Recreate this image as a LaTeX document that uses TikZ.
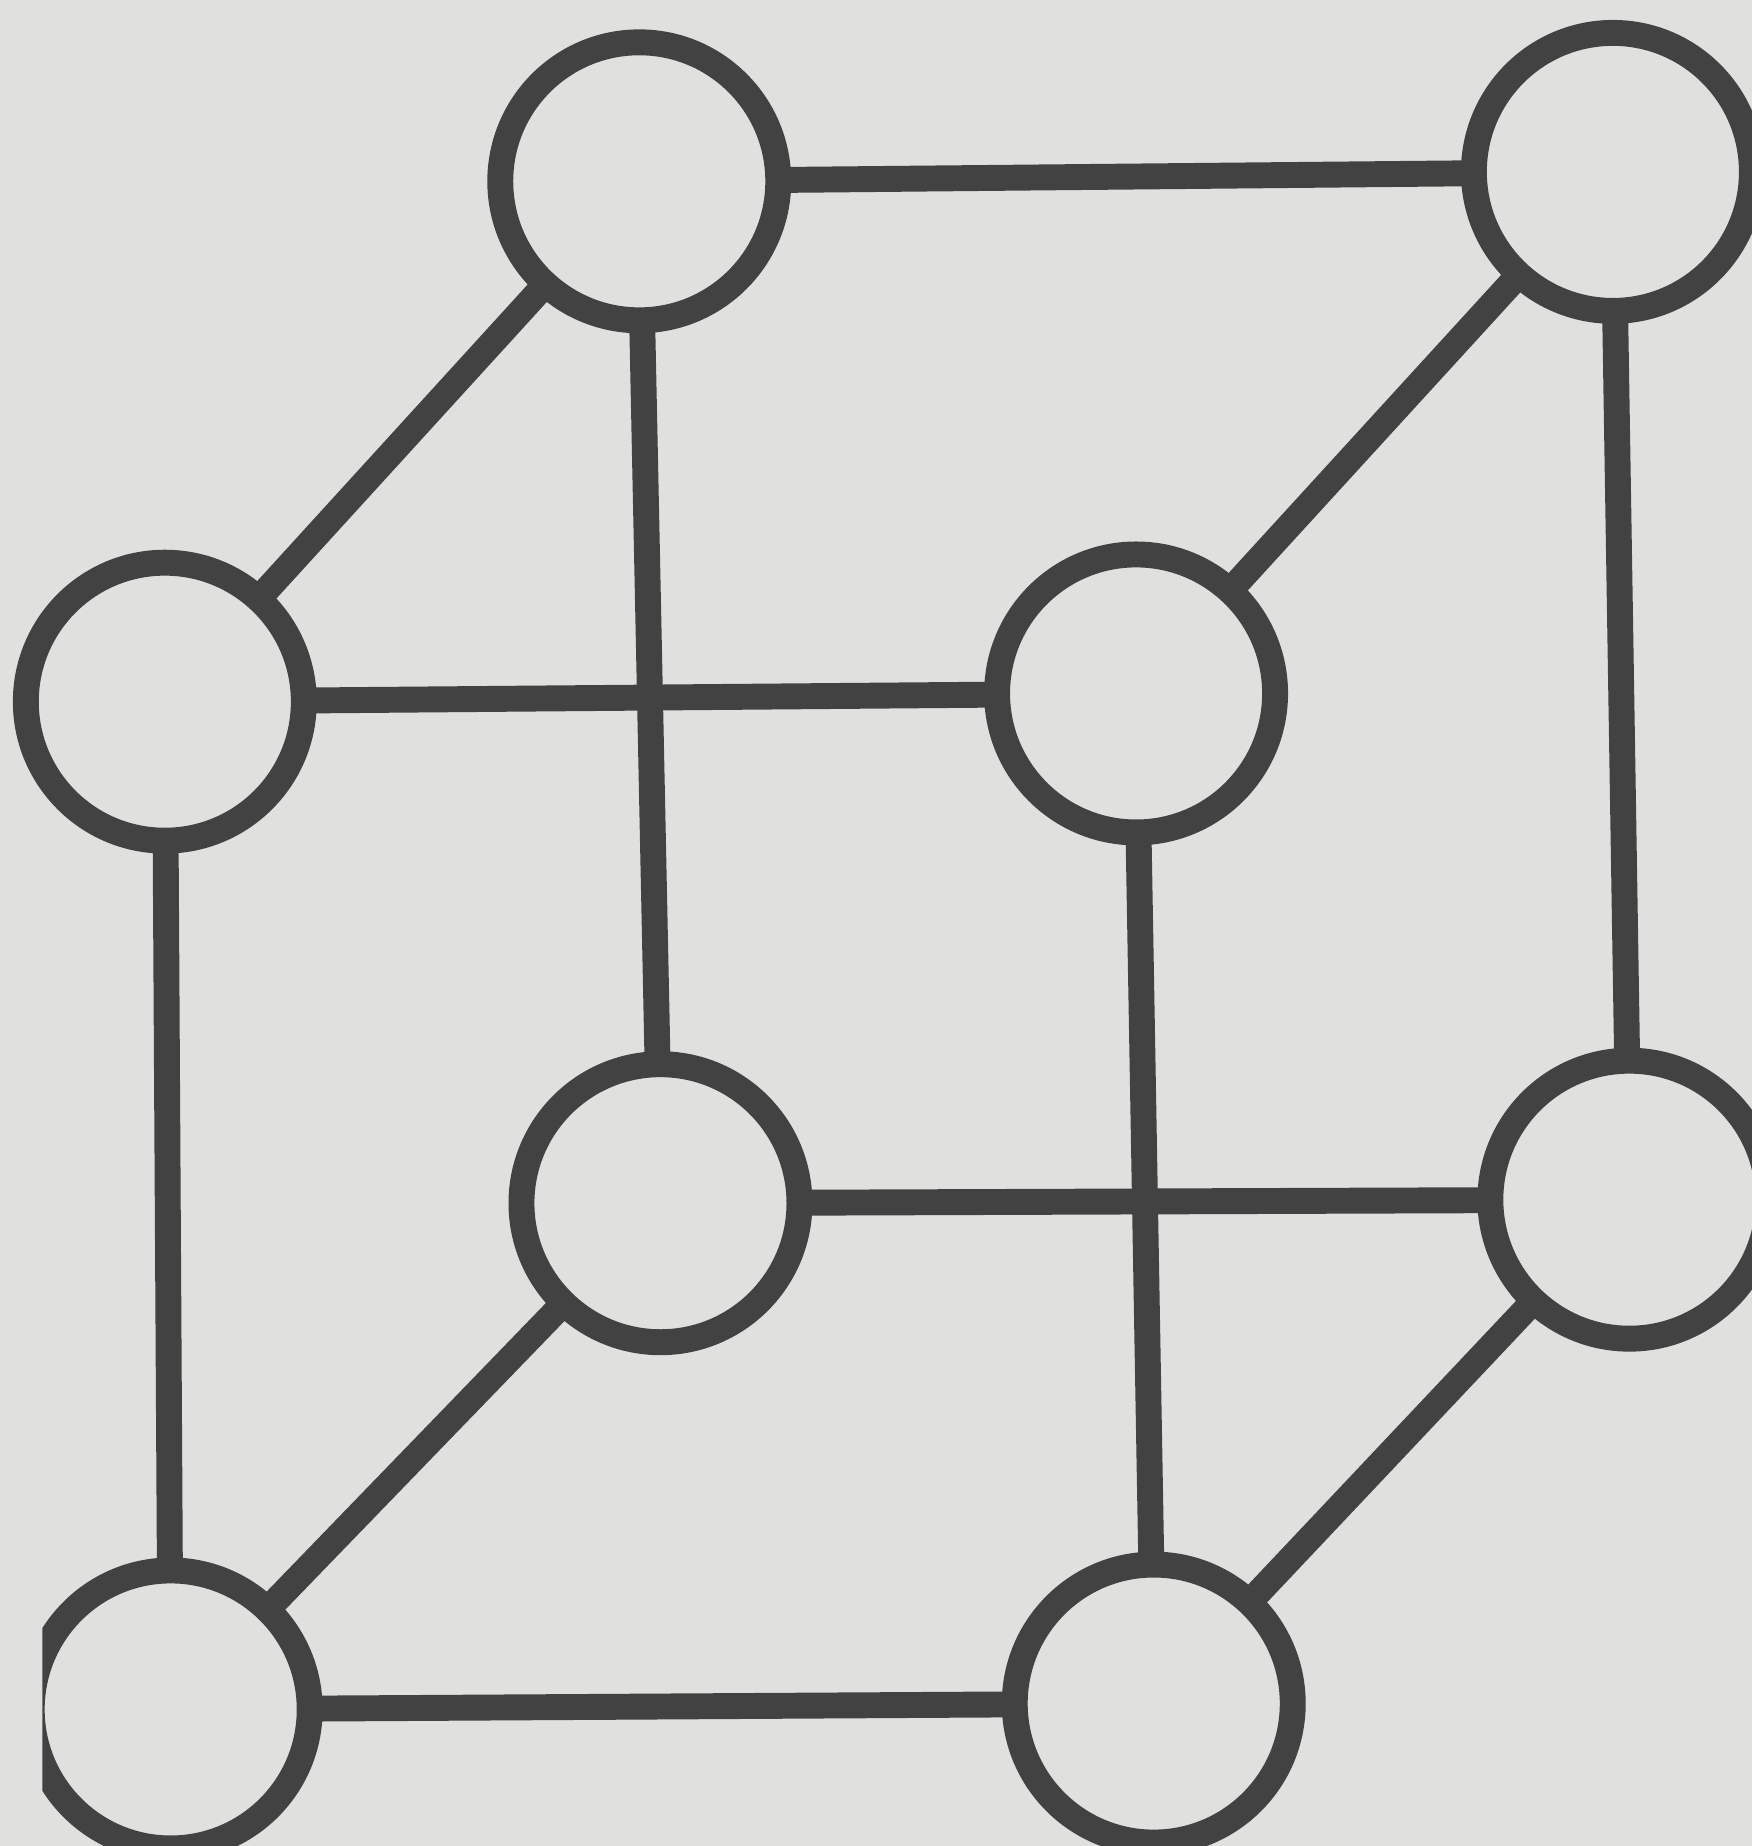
\documentclass[tikz,border=0pt]{standalone}
\definecolor{paper}{RGB}{224,224,222}
\definecolor{ink}{RGB}{66,66,66}
\begin{document}
\begin{tikzpicture}[x=0.01cm,y=-0.01cm,
  vtx/.style={circle,draw=ink,line width=0.22cm,minimum size=2.36cm,inner sep=0pt,outer sep=0pt},
  link/.style={draw=ink,line width=0.22cm}]
\fill[paper] (0,0) rectangle (1488,1568);
\useasboundingbox (0,0) rectangle (1488,1568);
\begin{scope}
\clip (0,0) rectangle (1488,1568);
\node[vtx] (A) at (543,154) {};
\node[vtx] (B) at (1370,146) {};
\node[vtx] (C) at (140,596) {};
\node[vtx] (D) at (965,589) {};
\node[vtx] (E) at (561,1022) {};
\node[vtx] (F) at (1384,1019) {};
\node[vtx] (H) at (980,1447) {};
\begin{scope}
\clip (36,0) rectangle (1488,1568);
\node[vtx] (G) at (145,1452) {};
\end{scope}
\draw[link] (A) -- (B);
\draw[link] (A) -- (C);
\draw[link] (A) -- (E);
\draw[link] (B) -- (D);
\draw[link] (B) -- (F);
\draw[link] (C) -- (D);
\draw[link] (C) -- (G);
\draw[link] (D) -- (H);
\draw[link] (E) -- (F);
\draw[link] (E) -- (G);
\draw[link] (F) -- (H);
\draw[link] (G) -- (H);
\end{scope}
\end{tikzpicture}
\end{document}
